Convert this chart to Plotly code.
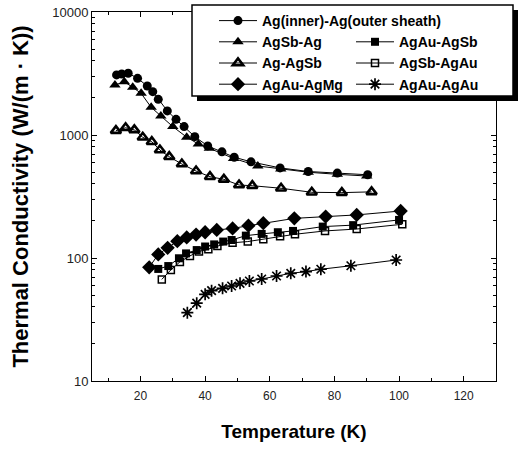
import plotly.graph_objects as go

# ---- data ----
t_ag = [12.6, 14.2, 16.2, 19.1, 22.1, 23.8, 25.5, 28.3, 31.0, 33.5, 36.8, 40.8, 45.2, 49.0, 54.2, 63.2, 71.9, 80.9, 90.3]
k_ag = [3080, 3130, 3180, 2890, 2500, 2250, 1950, 1570, 1340, 1170, 970, 815, 730, 660, 605, 540, 505, 490, 475]

t_agsb_ag = [12.1, 15.0, 17.6, 20.2, 23.3, 26.3, 30.0, 34.3, 37.9, 41.3, 48.8, 56.3, 63.4, 71.9, 80.9, 90.0]
k_agsb_ag = [2550, 2710, 2440, 2180, 1680, 1430, 1170, 960, 845, 780, 645, 560, 530, 498, 479, 464]

t_ag_agsb = [12.4, 15.4, 18.1, 20.7, 23.5, 26.0, 28.9, 32.8, 37.2, 41.5, 45.8, 50.5, 54.6, 63.5, 73.0, 82.3, 91.5]
k_ag_agsb = [1085, 1145, 1100, 958, 882, 755, 666, 581, 509, 458, 436, 392, 387, 369, 342, 340, 345]

t_agau_agmg = [22.7, 25.5, 28.4, 31.4, 34.3, 37.2, 40.0, 43.6, 48.5, 53.4, 58.0, 67.6, 77.3, 86.9, 100.5]
k_agau_agmg = [84, 107, 121, 137, 147, 155, 162, 169, 174, 183, 192, 210, 217, 224, 241]

t_agau_agsb = [25.5, 28.6, 31.9, 34.1, 37.4, 40.0, 42.8, 45.6, 48.2, 52.6, 57.5, 62.5, 67.2, 76.4, 85.8, 100.0]
k_agau_agsb = [81.5, 86, 99.5, 109, 116, 124, 129, 136, 140, 152, 157, 162, 166, 180, 185, 204]

t_agsb_agau = [26.6, 29.4, 32.2, 35.3, 38.1, 41.0, 43.8, 48.5, 53.2, 58.0, 63.2, 67.8, 77.1, 86.9, 101.0]
k_agsb_agau = [67, 80, 93, 104, 113, 118, 125, 133, 136, 142, 150, 156, 166, 172, 188]

t_agau_agau = [34.5, 37.4, 40.0, 42.0, 45.4, 48.2, 50.8, 53.7, 57.5, 62.1, 66.5, 71.2, 75.8, 85.1, 99.1]
k_agau_agau = [35.9, 42.9, 50.7, 54.2, 56.7, 59.2, 62.2, 65.0, 67.5, 71.4, 75.1, 77.5, 81.0, 86.5, 96.3]

x_ticks = [20, 40, 60, 80, 100, 120]
x_minor = [10, 30, 50, 70, 90, 110]
y_ticks = [10, 100, 1000, 10000]
y_tick_text = ["10", "100", "1000", "10000"]

BLACK = "black"
FONT = "Arial, Liberation Sans, Helvetica, sans-serif"

fig = go.Figure()


def add(x, y, name, symbol, size, lw=0, show=True):
    fig.add_trace(go.Scatter(
        x=x, y=y, name=name, mode="lines+markers",
        line=dict(color=BLACK, width=1),
        marker=dict(symbol=symbol, size=size, color=BLACK,
                    line=dict(color=BLACK, width=lw)),
        showlegend=show,
    ))


add(t_ag, k_ag, "Ag(inner)-Ag(outer sheath)", "circle", 9)
# blank slot so the first entry spans a full legend row
fig.add_trace(go.Scatter(x=[None], y=[None], name=" ", mode="lines",
                         line=dict(color="rgba(0,0,0,0)", width=0),
                         hoverinfo="skip"))
add(t_agsb_ag, k_agsb_ag, "AgSb-Ag", "triangle-up", 10)
add(t_agau_agsb, k_agau_agsb, "AgAu-AgSb", "square", 8)
add(t_ag_agsb, k_ag_agsb, "Ag-AgSb", "triangle-up-open", 9, lw=2.6)
add(t_agsb_agau, k_agsb_agau, "AgSb-AgAu", "square-open", 7, lw=1.5)
add(t_agau_agmg, k_agau_agmg, "AgAu-AgMg", "diamond", 11)
add(t_agau_agau, k_agau_agau, "AgAu-AgAu", "asterisk", 10, lw=1.7)

L, R, T, B = 92, 23, 12, 69
W, H = 519, 450
pw, ph = W - L - R, H - T - B


def px(xp):
    return (xp - L) / pw


def py(yp):
    return (H - B - yp) / ph


# legend frame with heavy drop shadow
fig.add_shape(type="rect", xref="paper", yref="paper",
              x0=px(197), x1=px(518), y0=py(101), y1=py(10),
              fillcolor=BLACK, line=dict(width=0), layer="above")
fig.add_shape(type="rect", xref="paper", yref="paper",
              x0=px(192), x1=px(513), y0=py(96), y1=py(5),
              fillcolor="white", line=dict(color=BLACK, width=1.5), layer="above")

axis_common = dict(
    showline=True, linecolor=BLACK, linewidth=1, mirror="allticks",
    ticks="inside", tickcolor=BLACK, tickwidth=1, ticklen=5,
    showgrid=False, zeroline=False,
)

fig.update_xaxes(
    range=[5, 130], tickvals=x_ticks,
    minor=dict(tickvals=x_minor, ticks="inside", ticklen=3, tickcolor=BLACK),
    title=dict(text="Temperature (K)", font=dict(family=FONT, size=19, color=BLACK, weight="bold"), standoff=22),
    tickfont=dict(family=FONT, size=12, color="#222"),
    ticklabelstandoff=4,
    **axis_common,
)
fig.update_yaxes(
    type="log", range=[1, 4], tickvals=y_ticks, ticktext=y_tick_text,
    minor=dict(ticks="inside", ticklen=3, tickcolor=BLACK, dtick="D1"),
    title=dict(text="Thermal Conductivity (W/(m · K))", font=dict(family=FONT, size=22, color=BLACK, weight="bold"), standoff=17),
    tickfont=dict(family=FONT, size=13, color="#222"),
    **axis_common,
)

fig.update_layout(
    width=W, height=H,
    margin=dict(l=L, r=R, t=T, b=B, autoexpand=False),
    paper_bgcolor="white", plot_bgcolor="white",
    showlegend=True,
    legend=dict(
        orientation="h", x=px(214), xanchor="left", y=py(5), yanchor="top",
        bgcolor="rgba(0,0,0,0)", borderwidth=0,
        entrywidth=84, entrywidthmode="pixels", itemwidth=38,
        font=dict(family=FONT, size=14, color=BLACK, weight="bold"),
        traceorder="normal",
    ),
)

fig.write_html(
    "out.html",
    config={"displayModeBar": False},
    post_script="document.body.style.margin='0';document.body.style.overflow='hidden';",
)
